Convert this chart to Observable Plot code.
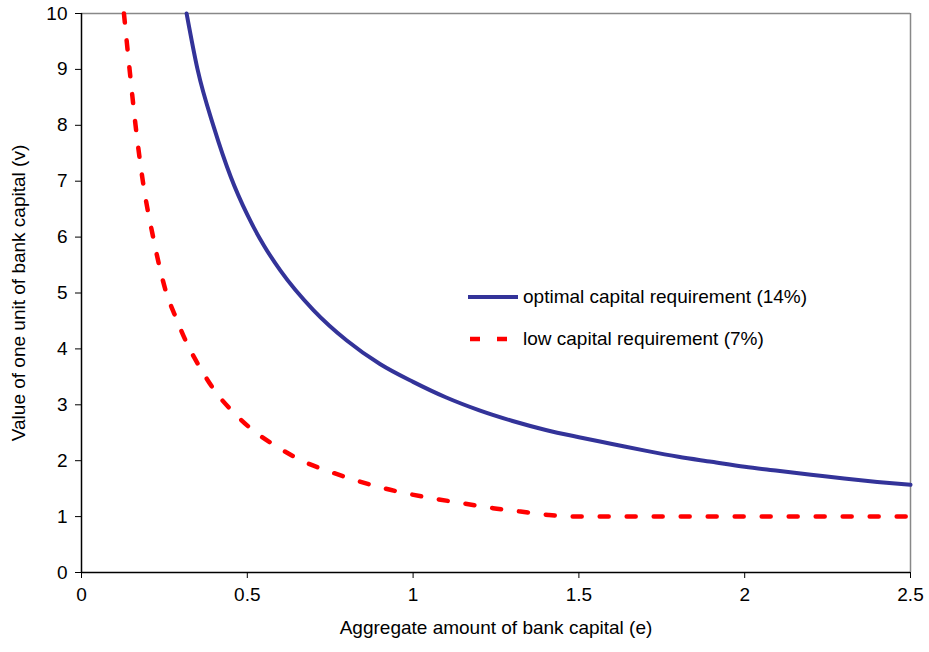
<!DOCTYPE html>
<html>
<head>
<meta charset="utf-8">
<script src="https://cdn.jsdelivr.net/npm/d3@7"></script>
<script src="https://cdn.jsdelivr.net/npm/@observablehq/plot@0.6"></script>
<style>
  body { margin: 0; background: #fff; }
  #wrap { position: relative; width: 929px; height: 652px; font-family: "Liberation Sans", Arial, sans-serif; }
  .leg { position: absolute; left: 466px; display: flex; align-items: center; font-size: 19px; color: #000; white-space: nowrap; }
  .leg svg { display: block; margin-right: 3px; }
</style>
</head>
<body>
<div id="wrap"></div>
<script>
// Blue: optimal capital requirement (14%)
const optE = [0.317, 0.35, 0.4, 0.45, 0.5, 0.55, 0.6, 0.7, 0.8, 0.9, 1.0, 1.1, 1.2, 1.3, 1.4, 1.5, 1.6, 1.7, 1.8, 1.9, 2.0, 2.1, 2.2, 2.3, 2.4, 2.5];
const optV = [10, 9.0, 7.95, 7.08, 6.4, 5.85, 5.4, 4.69, 4.15, 3.73, 3.41, 3.13, 2.9, 2.71, 2.55, 2.42, 2.3, 2.18, 2.07, 1.98, 1.89, 1.82, 1.75, 1.68, 1.62, 1.57];
// Red: low capital requirement (7%)
const lowE = [0.128, 0.145, 0.163, 0.185, 0.216, 0.256, 0.284, 0.317, 0.359, 0.402, 0.459, 0.52, 0.595, 0.668, 0.746, 0.827, 0.91, 0.992, 1.075, 1.158, 1.241, 1.324, 1.408, 1.49, 1.75, 2.0, 2.25, 2.5];
const lowV = [10, 9, 8, 7, 6, 5, 4.57, 4.11, 3.65, 3.25, 2.86, 2.53, 2.23, 1.99, 1.81, 1.65, 1.51, 1.40, 1.31, 1.23, 1.15, 1.09, 1.03, 1.0, 1.0, 1.0, 1.0, 1.0];

const xTicks = [0, 0.5, 1, 1.5, 2, 2.5];
const yTicks = [0, 1, 2, 3, 4, 5, 6, 7, 8, 9, 10];
const xDomain = [0, 2.5];
const yDomain = [0, 10];
const xLabel = "Aggregate amount of bank capital (e)";
const yLabel = "Value of one unit of bank capital (v)";
const seriesNames = ["optimal capital requirement (14%)", "low capital requirement (7%)"];

const opt = optE.map((e, i) => ({e, v: optV[i]}));
const low = lowE.map((e, i) => ({e, v: lowV[i]}));

const chart = Plot.plot({
  width: 929,
  height: 652,
  marginLeft: 81,
  marginRight: 19,
  marginTop: 13,
  marginBottom: 80,
  style: { fontFamily: "'Liberation Sans', Arial, sans-serif", fontSize: "19px", color: "#000", background: "#fff" },
  x: { domain: xDomain },
  y: { domain: yDomain },
  marks: [
    Plot.ruleY([yDomain[1]], { stroke: "#888", strokeWidth: 1.5 }),
    Plot.ruleX([xDomain[1]], { stroke: "#888", strokeWidth: 1.5 }),
    Plot.line(low, { x: "e", y: "v", stroke: "#ff0000", strokeWidth: 4.5, strokeDasharray: "9,18", curve: "monotone-x" }),
    Plot.line(opt, { x: "e", y: "v", stroke: "#333399", strokeWidth: 4, curve: "monotone-x" }),
    Plot.ruleX([xDomain[0]], { stroke: "#000", strokeWidth: 1.5 }),
    Plot.ruleY([yDomain[0]], { stroke: "#000", strokeWidth: 1.5 }),
    Plot.axisX(xTicks, { tickSize: 6, tickPadding: 9, tickFormat: d => String(d), label: null, fontSize: 19 }),
    Plot.axisY(yTicks, { tickSize: 6, tickPadding: 8, tickFormat: d => String(d), label: null, fontSize: 19 }),
    Plot.text([xLabel], { frameAnchor: "bottom", dy: 61, text: d => d, fontSize: 19, fill: "#000" }),
    Plot.text([yLabel], { frameAnchor: "left", dx: -63, rotate: -90, textAnchor: "middle", text: d => d, fontSize: 19, fill: "#000" })
  ]
});

const wrap = document.getElementById("wrap");
wrap.appendChild(chart);

const leg1 = document.createElement("div");
leg1.className = "leg";
leg1.style.top = "286px";
leg1.innerHTML = `<svg width="54" height="22"><line x1="2" y1="11" x2="52" y2="11" stroke="#333399" stroke-width="4"/></svg><span>${seriesNames[0]}</span>`;
wrap.appendChild(leg1);

const leg2 = document.createElement("div");
leg2.className = "leg";
leg2.style.top = "328px";
leg2.innerHTML = `<svg width="54" height="22"><line x1="4" y1="11" x2="14" y2="11" stroke="#ff0000" stroke-width="4.5"/><line x1="31" y1="11" x2="41" y2="11" stroke="#ff0000" stroke-width="4.5"/></svg><span>${seriesNames[1]}</span>`;
wrap.appendChild(leg2);
</script>
</body>
</html>
